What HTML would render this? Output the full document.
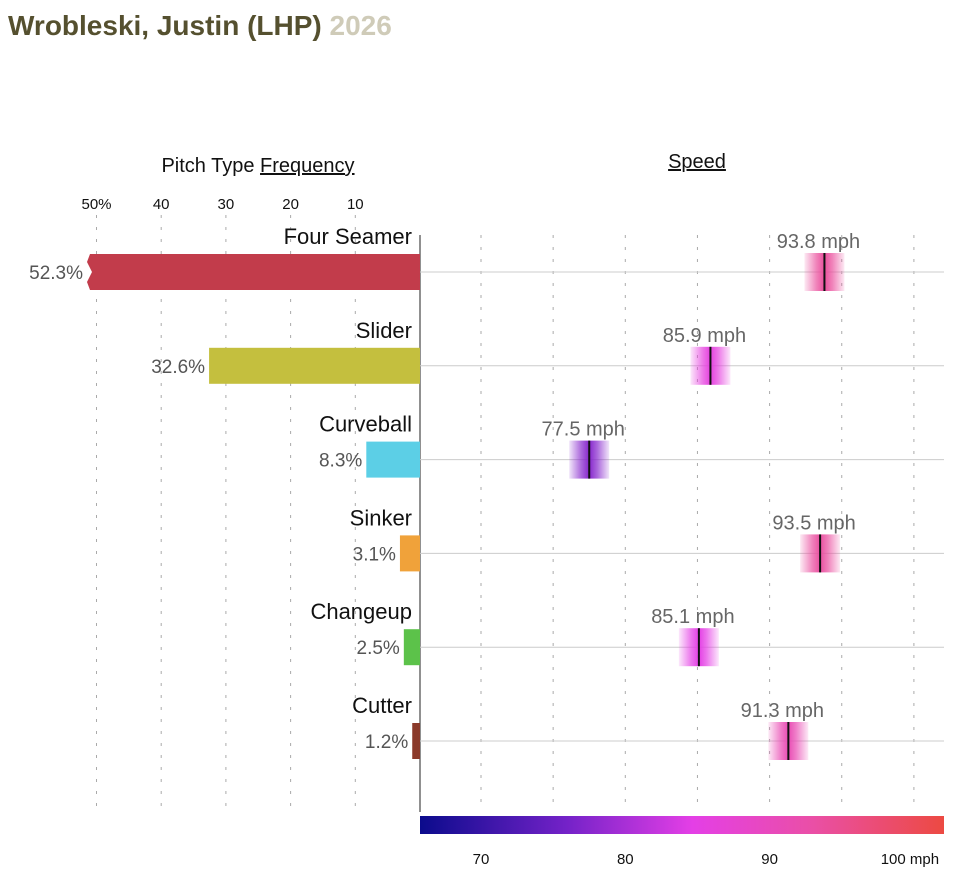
<!DOCTYPE html>
<html><head><meta charset="utf-8"><style>
body{margin:0;background:#fff;width:960px;height:879px;overflow:hidden;font-family:"Liberation Sans",sans-serif}
</style></head><body>
<svg id="c" width="960" height="879">
<defs>
<linearGradient id="cb" x1="0" x2="1">
<stop offset="0" stop-color="#0b0b8c"/><stop offset="0.28" stop-color="#7422c8"/>
<stop offset="0.52" stop-color="#e43fe6"/><stop offset="0.75" stop-color="#ea4fa6"/>
<stop offset="1" stop-color="#ec4a42"/></linearGradient>
</defs>
<text x="8" y="35" font-size="28" font-weight="bold" fill="#55502f">Wrobleski, Justin (LHP) <tspan fill="#cfcbb8">2026</tspan></text>
<text x="258" y="172" font-size="20" text-anchor="middle" fill="#111">Pitch Type <tspan text-decoration="underline">Frequency</tspan></text>
<text x="697" y="168" font-size="20" text-anchor="middle" fill="#111" text-decoration="underline">Speed</text>
<g id="g"></g>
</svg>
<script>
const pitches=["Four Seamer","Slider","Curveball","Sinker","Changeup","Cutter"];
const freq=[52.3,32.6,8.3,3.1,2.5,1.2];
const speed=[93.8,85.9,77.5,93.5,85.1,91.3];
const barColors=["#c23c4b","#c4bf3e","#5ccfe6","#f0a23a","#5cc24a","#8b3a2a"];
const freqTicks=[50,40,30,20,10];
const speedTicks=[70,75,80,85,90,95,100];
const speedLabels=[70,80,90,100];
const fx=v=>420-v*6.47;
const sx=v=>481+(v-70)*14.43;
const rowY=i=>272+i*93.8;
const NS="http://www.w3.org/2000/svg";
const g=document.getElementById('g');
function mk(t,a,p){const e=document.createElementNS(NS,t);for(const k in a)e.setAttribute(k,a[k]);(p||g).appendChild(e);return e;}
const cbStops=[[65.8,[11,11,140]],[76,[116,34,200]],[85,[228,63,230]],[93,[234,79,166]],[102,[236,74,66]]];
function col(v){for(let i=0;i<cbStops.length-1;i++){const a=cbStops[i],b=cbStops[i+1];if(v<=b[0]){const t=Math.max(0,(v-a[0])/(b[0]-a[0]));return a[1].map((c,j)=>Math.round(c+(b[1][j]-c)*t));}}return cbStops[4][1];}
freqTicks.forEach(t=>{
 let e=mk('line',{x1:fx(t),x2:fx(t),y1:215,y2:810,stroke:"#aaa","stroke-dasharray":"3,9"});
 
 e=mk('text',{x:fx(t),y:209,"font-size":15,"text-anchor":"middle",fill:"#111"});e.textContent=t===50?"50%":t;
 
});
speedTicks.forEach(t=>{
 const e=mk('line',{x1:sx(t),x2:sx(t),y1:235,y2:810,stroke:"#aaa","stroke-dasharray":"3,9"});
 
});
let ax=mk('line',{x1:420,x2:420,y1:235,y2:812,stroke:"#222","stroke-width":1});

pitches.forEach((p,i)=>{
 const y=rowY(i);
 let e=mk('line',{x1:420,x2:944,y1:y,y2:y,stroke:"#ccc"});
 
 e=mk('text',{x:412,y:y-28,"font-size":22,"text-anchor":"end",fill:"#111"});e.textContent=p;
 
 const v=freq[i];let x0=fx(Math.min(v,50));
 if(v>50){x0=87;
  e=mk('polygon',{points:`420,${y-18} ${x0+3},${y-18} ${x0},${y-10} ${x0+5},${y} ${x0},${y+10} ${x0+3},${y+18} 420,${y+18}`,fill:barColors[i]});
 } else e=mk('rect',{x:x0,y:y-18,width:420-x0,height:36,fill:barColors[i]});
 
 e=mk('text',{x:x0-4,y:y+7,"font-size":19,"text-anchor":"end",fill:"#555"});e.textContent=v.toFixed(1)+"%";
 
 const sxv=sx(speed[i]),c=col(speed[i]).join(',');
 const gid='m'+i;const gr=mk('linearGradient',{id:gid,x1:0,x2:1});
 [[0,0.12],[0.3,0.7],[0.5,1],[0.7,0.7],[1,0.12]].forEach(s=>mk('stop',{offset:s[0],"stop-color":`rgb(${c})`,"stop-opacity":s[1]},gr));
 e=mk('rect',{x:sxv-20,y:y-19,width:40,height:38,fill:`url(#${gid})`});
 
 e=mk('line',{x1:sxv,x2:sxv,y1:y-19,y2:y+19,stroke:"#111","stroke-width":2});
 
 e=mk('text',{x:sxv-6,y:y-24,"font-size":20,"text-anchor":"middle",fill:"#666"});e.textContent=speed[i].toFixed(1)+" mph";
 
});
let cb=mk('rect',{x:420,y:816,width:524,height:18,fill:"url(#cb)"});

speedLabels.forEach(t=>{
 const e=mk('text',{x:t===100?sx(t)-4:sx(t),y:864,"font-size":15,"text-anchor":"middle",fill:"#111"});e.textContent=t===100?"100 mph":t;
 
});
</script>
</body></html>
